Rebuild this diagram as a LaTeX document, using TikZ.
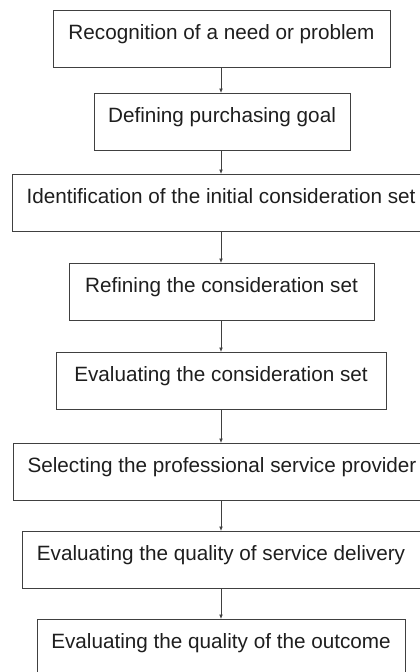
\documentclass[tikz,border=0pt]{standalone}
\usepackage{fontspec}
\setmainfont{Liberation Sans}
\usetikzlibrary{arrows.meta}
\definecolor{linegray}{HTML}{404040}
\definecolor{txt}{HTML}{1E1E1E}
\tikzset{
  stepbox/.style={draw=linegray, line width=0.9pt, inner sep=0pt, anchor=north,
    minimum height=57pt, text height=29pt, text depth=28pt,
    font=\fontsize{20.7pt}{24pt}\selectfont, text=txt},
  flow/.style={draw=linegray, line width=0.8pt, -{Latex[length=4.5pt,width=3.8pt]}}
}
\begin{document}
\begin{tikzpicture}[x=1pt,y=-1pt]
\useasboundingbox (0,0) rectangle (420,672);
\node[stepbox, minimum width=337pt] (b1) at (221.5,10) {Recognition of a need or problem};
\node[stepbox, minimum width=256pt] (b2) at (222,93) {Defining purchasing goal};
\node[stepbox, minimum width=418pt] (b3) at (221,174) {Identification of the initial consideration set};
\node[stepbox, minimum width=305pt] (b4) at (221.5,263) {Refining the consideration set};
\node[stepbox, minimum width=330pt] (b5) at (221,352) {Evaluating the consideration set};
\node[stepbox, minimum width=418pt] (b6) at (222,443) {Selecting the professional service provider};
\node[stepbox, minimum width=398pt] (b7) at (221,531) {Evaluating the quality of service delivery};
\node[stepbox, minimum width=368pt] (b8) at (221,619) {Evaluating the quality of the outcome};
\foreach \a/\b in {b1/b2,b2/b3,b3/b4,b4/b5,b5/b6,b6/b7,b7/b8}
  \draw[flow] (\a.south -| 221,0) -- (\b.north -| 221,0);
\end{tikzpicture}
\end{document}
